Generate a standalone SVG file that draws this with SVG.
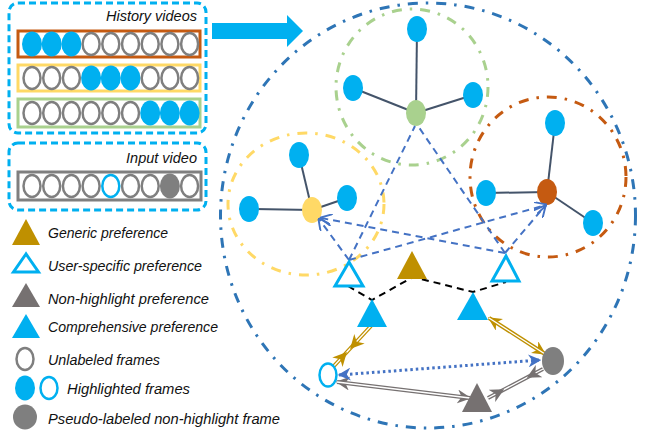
<svg xmlns="http://www.w3.org/2000/svg" width="645" height="433" viewBox="0 0 645 433">
<style>
.t{font-family:"Liberation Sans",Arial,sans-serif;font-style:italic;font-size:14.5px;fill:#111}
.box{fill:none;stroke:#00B0F0;stroke-width:3;stroke-dasharray:7 4}
.uf{fill:#fff;stroke:#7F7F7F;stroke-width:2.5}
.hf{fill:#00B0F0}
.ho{fill:#fff;stroke:#00B0F0;stroke-width:2.5}
.pf{fill:#7F7F7F}
.bn{fill:#00B0F0}
.edge{stroke:#44546A;stroke-width:2}
.dd{fill:none;stroke-width:3;stroke-dasharray:10 8 2.5 8}
.bd{stroke:#4472C4;stroke-width:2;stroke-dasharray:7 5;fill:none}
.kd{stroke:#000;stroke-width:2;stroke-dasharray:7 5;fill:none}
</style>
<defs>
<marker id="ob" markerUnits="userSpaceOnUse" markerWidth="12" markerHeight="12" refX="9" refY="5" orient="auto-start-reverse" viewBox="0 0 10 10"><path d="M0,0 L10,5 L0,10" fill="none" stroke="#4472C4" stroke-width="1.6"/></marker>
<marker id="sb" markerUnits="userSpaceOnUse" markerWidth="13" markerHeight="13" refX="9" refY="5" orient="auto-start-reverse" viewBox="0 0 10 10"><path d="M0,0 L10,5 L0,10 L3,5 z" fill="#4472C4"/></marker>
<marker id="sg" markerUnits="userSpaceOnUse" markerWidth="14" markerHeight="14" refX="9" refY="5" orient="auto-start-reverse" viewBox="0 0 10 10"><path d="M0,0 L10,5 L0,10 L3,5 z" fill="#BF9000"/></marker>
<marker id="sk" markerUnits="userSpaceOnUse" markerWidth="14" markerHeight="14" refX="9" refY="5" orient="auto-start-reverse" viewBox="0 0 10 10"><path d="M0,0 L10,5 L0,10 L3,5 z" fill="#767171"/></marker>
</defs>
<rect width="645" height="433" fill="#fff"/>

<g id="history-videos">
<rect class="box" x="9" y="3" width="197" height="130" rx="9"/>
<text class="t" x="197" y="21" text-anchor="end">History videos</text>
<rect x="18" y="31" width="182" height="26" fill="none" stroke="#C55A11" stroke-width="3"/>
<g transform="translate(0,44)">
<ellipse class="hf" cx="32" cy="0" rx="10" ry="12.5"/><ellipse class="hf" cx="51.7" cy="0" rx="10" ry="12.5"/><ellipse class="hf" cx="71.4" cy="0" rx="10" ry="12.5"/>
<ellipse class="uf" cx="91.1" cy="0" rx="8.5" ry="11"/><ellipse class="uf" cx="110.8" cy="0" rx="8.5" ry="11"/><ellipse class="uf" cx="130.5" cy="0" rx="8.5" ry="11"/><ellipse class="uf" cx="150.2" cy="0" rx="8.5" ry="11"/><ellipse class="uf" cx="169.9" cy="0" rx="8.5" ry="11"/><ellipse class="uf" cx="189.6" cy="0" rx="8.5" ry="11"/>
</g>
<rect x="18" y="65" width="182" height="26" fill="none" stroke="#FFD966" stroke-width="3"/>
<g transform="translate(0,78)">
<ellipse class="uf" cx="32" cy="0" rx="8.5" ry="11"/><ellipse class="uf" cx="51.7" cy="0" rx="8.5" ry="11"/><ellipse class="uf" cx="71.4" cy="0" rx="8.5" ry="11"/>
<ellipse class="hf" cx="91.1" cy="0" rx="10" ry="12.5"/><ellipse class="hf" cx="110.8" cy="0" rx="10" ry="12.5"/><ellipse class="hf" cx="130.5" cy="0" rx="10" ry="12.5"/>
<ellipse class="uf" cx="150.2" cy="0" rx="8.5" ry="11"/><ellipse class="uf" cx="169.9" cy="0" rx="8.5" ry="11"/><ellipse class="uf" cx="189.6" cy="0" rx="8.5" ry="11"/>
</g>
<rect x="18" y="99" width="182" height="28" fill="none" stroke="#A9D18E" stroke-width="3"/>
<g transform="translate(0,113)">
<ellipse class="uf" cx="32" cy="0" rx="8.5" ry="11"/><ellipse class="uf" cx="51.7" cy="0" rx="8.5" ry="11"/><ellipse class="uf" cx="71.4" cy="0" rx="8.5" ry="11"/><ellipse class="uf" cx="91.1" cy="0" rx="8.5" ry="11"/><ellipse class="uf" cx="110.8" cy="0" rx="8.5" ry="11"/><ellipse class="uf" cx="130.5" cy="0" rx="8.5" ry="11"/>
<ellipse class="hf" cx="150.2" cy="0" rx="10" ry="12.5"/><ellipse class="hf" cx="169.9" cy="0" rx="10" ry="12.5"/><ellipse class="hf" cx="189.6" cy="0" rx="10" ry="12.5"/>
</g>
</g>

<g id="input-video">
<rect class="box" x="9" y="143" width="197" height="67" rx="9"/>
<text class="t" x="197" y="163" text-anchor="end">Input video</text>
<rect x="18" y="172" width="183" height="28" fill="none" stroke="#7F7F7F" stroke-width="3"/>
<g transform="translate(0,186)">
<ellipse class="uf" cx="32" cy="0" rx="8.5" ry="11"/><ellipse class="uf" cx="51.7" cy="0" rx="8.5" ry="11"/><ellipse class="uf" cx="71.4" cy="0" rx="8.5" ry="11"/><ellipse class="uf" cx="91.1" cy="0" rx="8.5" ry="11"/>
<ellipse class="ho" cx="110.8" cy="0" rx="8.5" ry="11"/>
<ellipse class="uf" cx="130.5" cy="0" rx="8.5" ry="11"/><ellipse class="uf" cx="150.2" cy="0" rx="8.5" ry="11"/>
<ellipse class="pf" cx="169.9" cy="0" rx="10" ry="12.5"/>
<ellipse class="uf" cx="189.6" cy="0" rx="8.5" ry="11"/>
</g>
</g>

<g id="big-arrow">
<path d="M212,23 L287,23 L287,15 L303,31 L287,47 L287,39 L212,39 Z" fill="#00B0F0"/>
</g>

<g id="legend">
<polygon points="26,219 12,245 40,245" fill="#BF9000"/>
<text class="t" x="48" y="238" textLength="120" lengthAdjust="spacingAndGlyphs">Generic preference</text>
<polygon points="26,254 13.5,272 38.5,272" fill="none" stroke="#00B0F0" stroke-width="3"/>
<text class="t" x="48" y="271" textLength="154" lengthAdjust="spacingAndGlyphs">User-specific preference</text>
<polygon points="26,283 12,307 40,307" fill="#767171"/>
<text class="t" x="48" y="304" textLength="161" lengthAdjust="spacingAndGlyphs">Non-highlight preference</text>
<polygon points="26,314 12,338 40,338" fill="#00B0F0"/>
<text class="t" x="48" y="332" textLength="170" lengthAdjust="spacingAndGlyphs">Comprehensive preference</text>
<ellipse class="uf" cx="25" cy="359" rx="8.5" ry="11"/>
<text class="t" x="48" y="365" textLength="112" lengthAdjust="spacingAndGlyphs">Unlabeled frames</text>
<ellipse class="hf" cx="25" cy="388" rx="10" ry="12.5"/>
<ellipse class="ho" cx="49" cy="388" rx="8.5" ry="11"/>
<text class="t" x="67" y="394" textLength="123" lengthAdjust="spacingAndGlyphs">Highlighted frames</text>
<ellipse class="pf" cx="25" cy="417" rx="12" ry="12.5"/>
<text class="t" x="48" y="424" textLength="232" lengthAdjust="spacingAndGlyphs">Pseudo-labeled non-highlight frame</text>
</g>

<g id="space">
<ellipse class="dd" cx="428" cy="215.5" rx="207.5" ry="212.5" stroke="#2E75B6"/>
</g>

<g id="cluster-green">
<ellipse class="dd" cx="412" cy="87" rx="76" ry="78" stroke="#A9D18E"/>
<line class="edge" x1="416" y1="113" x2="417" y2="29"/>
<line class="edge" x1="416" y1="113" x2="353" y2="88"/>
<line class="edge" x1="416" y1="113" x2="473" y2="95"/>
<ellipse class="bn" cx="417" cy="29" rx="10" ry="13"/>
<ellipse class="bn" cx="353" cy="88" rx="10" ry="13"/>
<ellipse class="bn" cx="473" cy="95" rx="10" ry="13"/>
<ellipse cx="416" cy="113" rx="10" ry="13" fill="#A9D18E"/>
</g>

<g id="cluster-orange">
<ellipse class="dd" cx="548" cy="177" rx="78" ry="80" stroke="#C55A11"/>
<line class="edge" x1="547" y1="192" x2="555" y2="123"/>
<line class="edge" x1="547" y1="192" x2="486" y2="193"/>
<line class="edge" x1="547" y1="192" x2="593" y2="223"/>
<ellipse class="bn" cx="555" cy="123" rx="10" ry="13"/>
<ellipse class="bn" cx="486" cy="193" rx="10" ry="13"/>
<ellipse class="bn" cx="593" cy="223" rx="10" ry="13"/>
<ellipse cx="547" cy="192" rx="10" ry="13" fill="#C55A11"/>
</g>

<g id="cluster-yellow">
<ellipse class="dd" cx="306" cy="204" rx="78" ry="71" stroke="#FFD966"/>
<line class="edge" x1="312" y1="210" x2="299" y2="155"/>
<line class="edge" x1="312" y1="210" x2="249" y2="209"/>
<line class="edge" x1="312" y1="210" x2="347" y2="198"/>
<ellipse class="bn" cx="299" cy="155" rx="10" ry="13"/>
<ellipse class="bn" cx="249" cy="209" rx="10" ry="13"/>
<ellipse class="bn" cx="347" cy="198" rx="10" ry="13"/>
<ellipse cx="312" cy="210" rx="10" ry="13" fill="#FFD966"/>
</g>

<g id="connectors">
<line class="bd" x1="349" y1="260" x2="415" y2="126"/>
<line class="bd" x1="505" y1="253" x2="418" y2="126"/>
<line class="bd" x1="349" y1="260" x2="319" y2="219" marker-end="url(#ob)"/>
<line class="bd" x1="505" y1="253" x2="321" y2="218" marker-end="url(#ob)"/>
<line class="bd" x1="349" y1="260" x2="546" y2="205" marker-end="url(#ob)"/>
<line class="bd" x1="505" y1="253" x2="545" y2="206" marker-end="url(#ob)"/>
<polyline class="kd" points="348,286 372,300 413,277 473,292 506,282"/>
<line x1="371" y1="326" x2="333" y2="367" stroke="#BF9000" stroke-width="4"/>
<line x1="371" y1="326" x2="333" y2="367" stroke="#fff" stroke-width="1.4"/>
<line x1="371" y1="326" x2="351" y2="348" stroke="none" marker-end="url(#sg)"/>
<line x1="333" y1="367" x2="346" y2="353" stroke="none" marker-end="url(#sg)"/>
<line x1="489" y1="318" x2="545" y2="354" stroke="#BF9000" stroke-width="4" marker-start="url(#sg)" marker-end="url(#sg)"/>
<line x1="489" y1="318" x2="545" y2="354" stroke="#fff" stroke-width="1.4"/>
<line x1="337" y1="382" x2="470" y2="398" stroke="#767171" stroke-width="4" marker-start="url(#sk)" marker-end="url(#sk)"/>
<line x1="337" y1="382" x2="470" y2="398" stroke="#fff" stroke-width="1.4"/>
<line x1="488" y1="398" x2="543" y2="369" stroke="#767171" stroke-width="4"/>
<line x1="488" y1="398" x2="543" y2="369" stroke="#fff" stroke-width="1.4"/>
<line x1="488" y1="398" x2="503" y2="390" stroke="none" marker-end="url(#sk)"/>
<line x1="543" y1="369" x2="528" y2="377" stroke="none" marker-end="url(#sk)"/>
<line x1="339" y1="375" x2="540" y2="360" stroke="#4472C4" stroke-width="3" stroke-dasharray="2.5 3" marker-start="url(#sb)" marker-end="url(#sb)"/>
</g>

<g id="pref-nodes">
<polygon points="349,262 335,286 363,286" fill="#fff" stroke="#00B0F0" stroke-width="3"/>
<polygon points="506,256 492,281 519,281" fill="#fff" stroke="#00B0F0" stroke-width="3"/>
<polygon points="412,251 397,279 427,279" fill="#BF9000"/>
<polygon points="372,299 357,327 387,327" fill="#00B0F0"/>
<polygon points="473,292 457,320 488,320" fill="#00B0F0"/>
<polygon points="477,383 462,412 492,412" fill="#767171"/>
</g>

<g id="frame-nodes">
<ellipse cx="328" cy="375" rx="8.5" ry="11.5" fill="#fff" stroke="#00B0F0" stroke-width="2.5"/>
<ellipse cx="553" cy="361" rx="11" ry="14" fill="#7F7F7F"/>
</g>
</svg>
